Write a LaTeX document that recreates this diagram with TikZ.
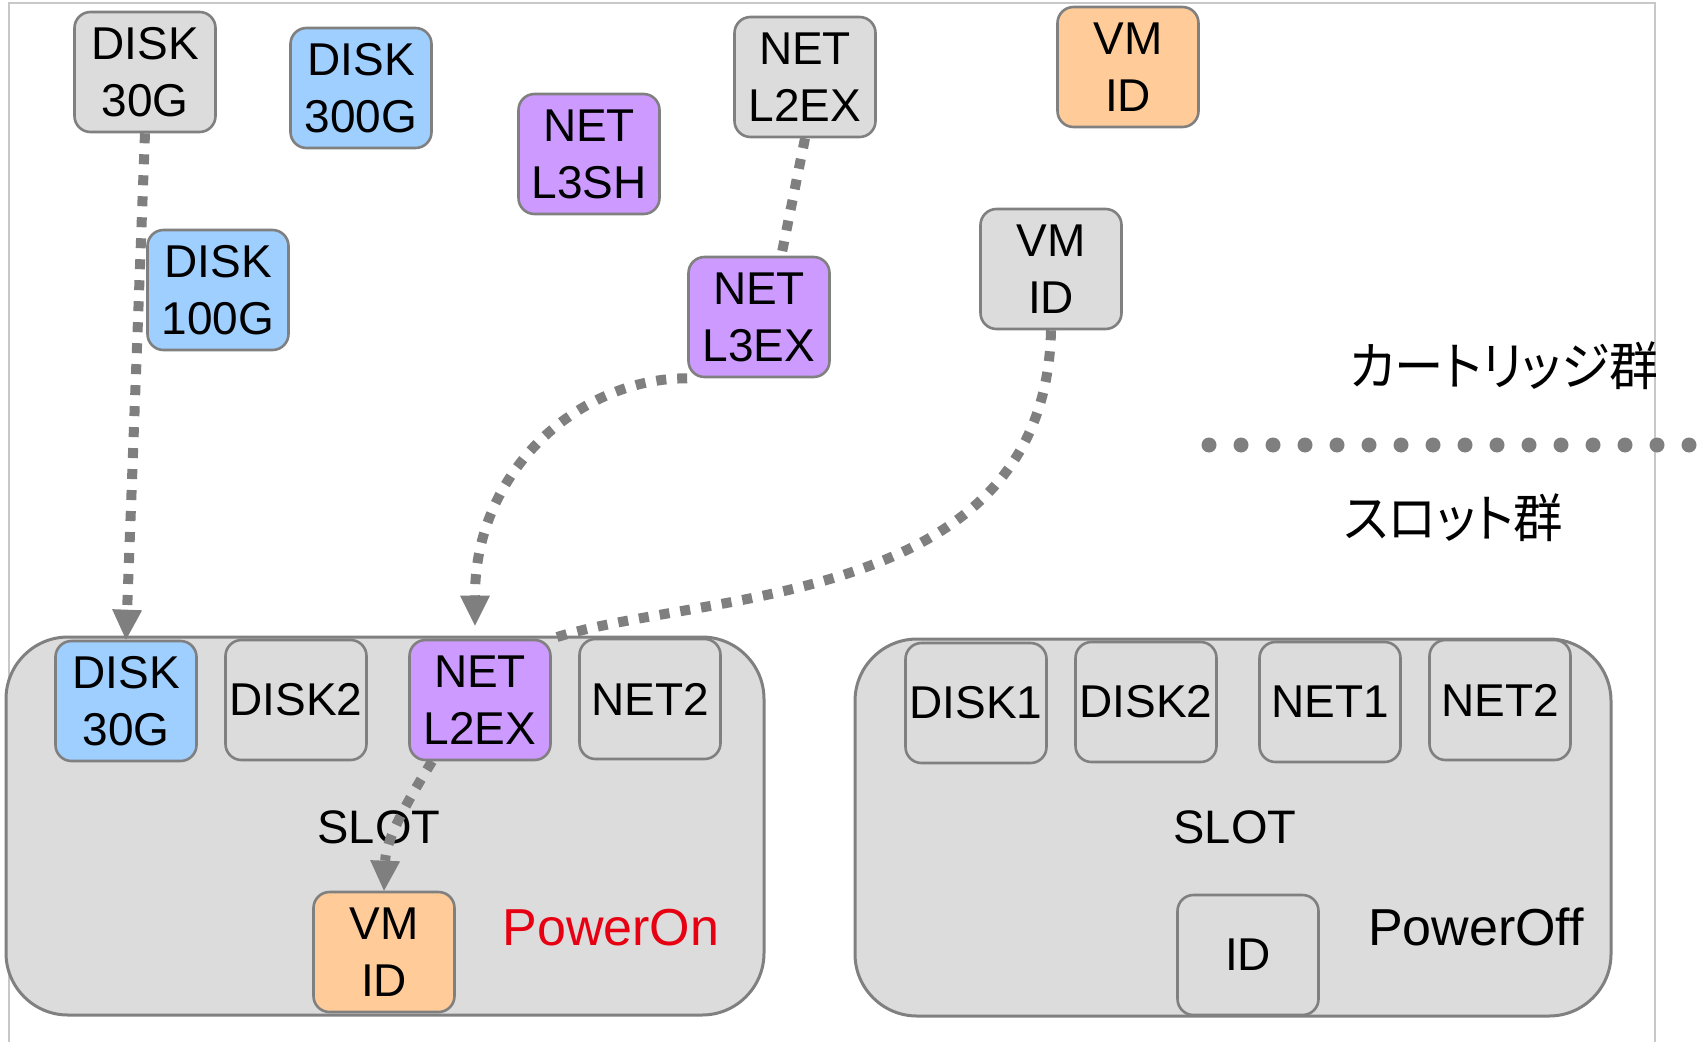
\documentclass[tikz,border=0pt]{standalone}
\usepackage{fontspec}
\setmainfont{Liberation Sans}
\newfontfamily\jpfont[RawFeature=+palt, FakeStretch=0.95]{Noto Sans CJK JP}
\usetikzlibrary{arrows.meta,calc}

\definecolor{boxgray}{HTML}{DCDCDC}
\definecolor{diskblue}{HTML}{9FCFFF}
\definecolor{netpurple}{HTML}{CD9BFF}
\definecolor{vmorange}{HTML}{FFCC99}
\definecolor{edgegray}{HTML}{808080}
\definecolor{wiregray}{HTML}{7F7F7F}
\definecolor{framegray}{HTML}{C8C8C8}
\definecolor{powerred}{HTML}{E60012}

\pgfdeclarelayer{back}
\pgfdeclarelayer{front}
\pgfsetlayers{back,main,front}

\begin{document}
\begin{tikzpicture}[x=1pt,y=-1pt,
  cell/.style={draw=edgegray, line width=2.6pt, rounded corners=16pt,
    minimum width=141pt, minimum height=120pt, inner sep=0pt,
    align=center, font=\fontsize{46}{57}\selectfont},
  graycell/.style={cell, fill=boxgray},
  diskcell/.style={cell, fill=diskblue},
  netcell/.style={cell, fill=netpurple},
  vmcell/.style={cell, fill=vmorange},
  slotbox/.style={draw=edgegray, line width=3pt, fill=boxgray,
    rounded corners=62pt, inner sep=0pt},
  slotlabel/.style={inner sep=0pt, font=\fontsize{47}{57}\selectfont},
  statelabel/.style={inner sep=0pt, font=\fontsize{52}{60}\selectfont},
  grouplabel/.style={inner sep=0pt, anchor=west, font=\jpfont\fontsize{52}{60}\selectfont},
  wire/.style={draw=wiregray, line width=10pt, dash pattern=on 10pt off 11pt},
  arrowed/.style={-{Triangle[length=30pt,width=30pt,line width=0pt]}},
]
\useasboundingbox (0,0) rectangle (1704,1041);

% ---------- background: frame, slots, separator ----------
\begin{pgfonlayer}{back}
  \fill[white] (0,0) rectangle (1704,1041);
  \draw[framegray, line width=2.5pt] (9,1060) -- (9,3) -- (1655,3) -- (1655,1060);

  \node[slotbox, minimum width=758pt, minimum height=378pt] (slotA) at (385,826) {};
  \node[slotbox, minimum width=756pt, minimum height=377pt] (slotB) at (1233,827.5) {};

  \node[slotlabel] (slotAtxt) at (379,827) {SLOT};
  \node[slotlabel] (slotBtxt) at (1235,827) {SLOT};
  \node[statelabel, text=powerred] (pon) at (611,928) {PowerOn};
  \node[statelabel] (poff) at (1476,927) {PowerOff};

  % separator between cartridges and slots
  \draw[wiregray, line width=15pt, line cap=round, dash pattern=on 0pt off 32pt]
    (1209,445) -- (1720,445);

  \begin{scope}
    \clip (0,0) rectangle (1655,1041);
    \node[grouplabel] (cartg) at (1349,366) {カートリッジ群};
  \end{scope}
  \node[grouplabel] (slotg) at (1344,518) {スロット群};
\end{pgfonlayer}

% ---------- cartridges and slot contents ----------
\begin{pgfonlayer}{front}
  \node[graycell] (c30)   at (145,72)  {DISK\\30G};
  \node[diskcell] (c300)  at (361,88)  {DISK\\300G};
  \node[netcell]  (l3sh)  at (589,154) {NET\\L3SH};
  \node[graycell] (l2exc) at (805,77)  {NET\\L2EX};
  \node[vmcell]   (vmo)   at (1128,67) {VM\\ID};
  \node[diskcell] (c100)  at (218,290) {DISK\\100G};
  \node[netcell]  (l3ex)  at (759,317) {NET\\L3EX};
  \node[graycell] (vmg)   at (1051,269) {VM\\ID};

  \node[diskcell] (sdisk)  at (126,701) {DISK\\30G};
  \node[graycell] (sdisk2) at (296,700) {DISK2};
  \node[netcell]  (snet)   at (480,700) {NET\\L2EX};
  \node[graycell] (snet2)  at (650,699) {NET2};
  \node[vmcell]   (svm)    at (384,952) {VM\\ID};

  \node[graycell] (tdisk1) at (976,703)  {DISK1};
  \node[graycell] (tdisk2) at (1146,702) {DISK2};
  \node[graycell] (tnet1)  at (1330,702) {NET1};
  \node[graycell] (tnet2)  at (1500,700) {NET2};
  \node[graycell] (tid)    at (1248,955) {ID};
\end{pgfonlayer}

% ---------- connectors ----------
\coordinate (nettip) at ($(snet.north)+(-5,-13)$);

\draw[wire, arrowed] (c30.south) -- (sdisk.north);
\draw[wire] (l2exc.south) -- (l3ex.70);
\draw[wire, arrowed] (l3ex.south west) .. controls (580,378) and (475,470) .. (nettip);
\draw[wire] (vmg.south) .. controls (1045,610) and (700,590) .. (snet.north east);
\draw[wire, arrowed] (snet.-128) .. controls (405,805) and (386,840) .. (svm.north);
\end{tikzpicture}
\end{document}
